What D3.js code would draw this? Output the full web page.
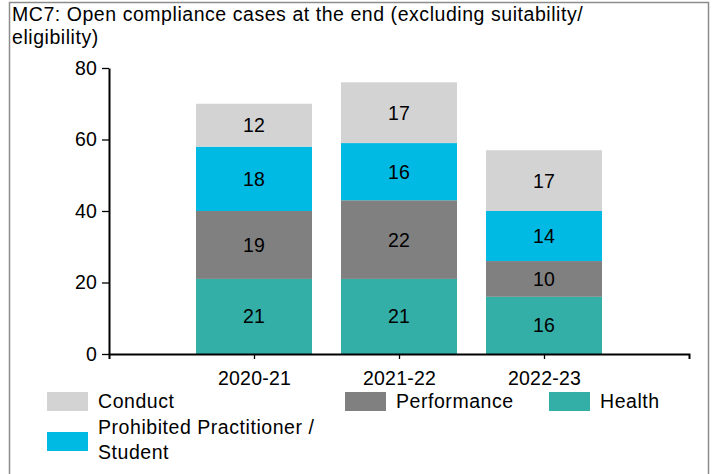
<!DOCTYPE html>
<html>
<head>
<meta charset="utf-8">
<script src="https://cdn.jsdelivr.net/npm/d3@7"></script>
<style>
  html, body { margin: 0; padding: 0; background: #fff; }
  svg { display: block; font-family: "Liberation Sans", Arial, sans-serif; }
  .word { font-size: 19.5px; letter-spacing: 0.55px; }
  .num { font-size: 19.5px; letter-spacing: 0.2px; }
</style>
</head>
<body>
<svg id="chart" width="716" height="474"></svg>
<script>
// Categories (financial years) and stacked series, bottom to top
const years = ["2020-21", "2021-22", "2022-23"];
const health = [21, 21, 16];
const performance = [19, 22, 10];
const prohibited = [18, 16, 14];
const conduct = [12, 17, 17];
const yTicks = [0, 20, 40, 60, 80];

const seriesNames = ["Health", "Performance", "Prohibited Practitioner / Student", "Conduct"];
const seriesColors = ["#33afa8", "#808080", "#00bae3", "#d3d3d3"];
const seriesValues = [health, performance, prohibited, conduct];

const rows = years.map((y, i) => {
  const r = { year: y };
  seriesNames.forEach((s, k) => { r[s] = seriesValues[k][i]; });
  return r;
});

const svg = d3.select("#chart");

// Outer frame (open at the bottom)
svg.append("path")
  .attr("d", "M9.5,480V2.5H708.5V480")
  .attr("fill", "none")
  .attr("stroke", "#8c8c8c")
  .attr("stroke-width", 1.5);

// Title
const title = svg.append("text")
  .attr("class", "word")
  .attr("fill", "#000");
title.append("tspan").attr("x", 12).attr("y", 21)
  .text("MC7: Open compliance cases at the end (excluding suitability/");
title.append("tspan").attr("x", 12).attr("y", 44)
  .text("eligibility)");

const x0 = 109, x1 = 689, yTop = 68, yBottom = 354;

const x = d3.scalePoint().domain(years).range([x0, x1]).padding(1);
const y = d3.scaleLinear().domain([0, 80]).range([yBottom, yTop]);
const barW = x.step() * 0.8;

const stack = d3.stack().keys(seriesNames);
const layers = stack(rows);

const g = svg.append("g");
layers.forEach((layer, k) => {
  g.selectAll(null)
    .data(layer)
    .join("rect")
    .attr("x", d => x(d.data.year) - barW / 2)
    .attr("y", d => y(d[1]))
    .attr("width", barW)
    .attr("height", d => y(d[0]) - y(d[1]))
    .attr("fill", seriesColors[k]);

  g.selectAll(null)
    .data(layer)
    .join("text")
    .attr("class", "num")
    .attr("x", d => x(d.data.year))
    .attr("y", d => (y(d[0]) + y(d[1])) / 2)
    .attr("dy", "0.36em")
    .attr("text-anchor", "middle")
    .attr("fill", "#000")
    .text(d => d.data[seriesNames[k]]);
});

// Y axis
const yAxis = svg.append("g")
  .attr("transform", `translate(${x0},0)`)
  .call(d3.axisLeft(y).tickValues(yTicks).tickSize(7).tickSizeOuter(0).tickPadding(5));
yAxis.selectAll("text").attr("class", "num").attr("font-size", null).attr("font-family", null).attr("fill", "#000");
yAxis.selectAll("line").attr("stroke", "#000").attr("stroke-width", 1.3);
yAxis.select(".domain").attr("stroke", "#000").attr("stroke-width", 2);

// X axis
const xAxis = svg.append("g")
  .attr("transform", `translate(0,${yBottom})`)
  .call(d3.axisBottom(x).tickSize(5).tickSizeOuter(5).tickPadding(12));
xAxis.selectAll("text").attr("class", "num").attr("font-size", null).attr("font-family", null).attr("fill", "#000");
xAxis.selectAll("line").attr("stroke", "#000").attr("stroke-width", 1.3);
xAxis.select(".domain").attr("stroke", "#000").attr("stroke-width", 2);
yAxis.attr("font-size", null).attr("font-family", null);
xAxis.attr("font-size", null).attr("font-family", null);

// Legend
const legendItems = [
  { lines: ["Conduct"], color: seriesColors[3], x: 47, y: 392 },
  { lines: ["Performance"], color: seriesColors[1], x: 345, y: 392 },
  { lines: ["Health"], color: seriesColors[0], x: 549, y: 392 },
  { lines: ["Prohibited Practitioner /", "Student"], color: seriesColors[2], x: 47, y: 432 }
];
const lg = svg.append("g");
legendItems.forEach(it => {
  lg.append("rect")
    .attr("x", it.x).attr("y", it.y)
    .attr("width", 41).attr("height", 19)
    .attr("fill", it.color);
  const t = lg.append("text").attr("class", "word").attr("fill", "#000");
  if (it.lines.length === 1) {
    t.append("tspan").attr("x", it.x + 51).attr("y", it.y + 16).text(it.lines[0]);
  } else {
    t.append("tspan").attr("x", it.x + 51).attr("y", it.y + 2).text(it.lines[0]);
    t.append("tspan").attr("x", it.x + 51).attr("y", it.y + 27).text(it.lines[1]);
  }
});
</script>
</body>
</html>
